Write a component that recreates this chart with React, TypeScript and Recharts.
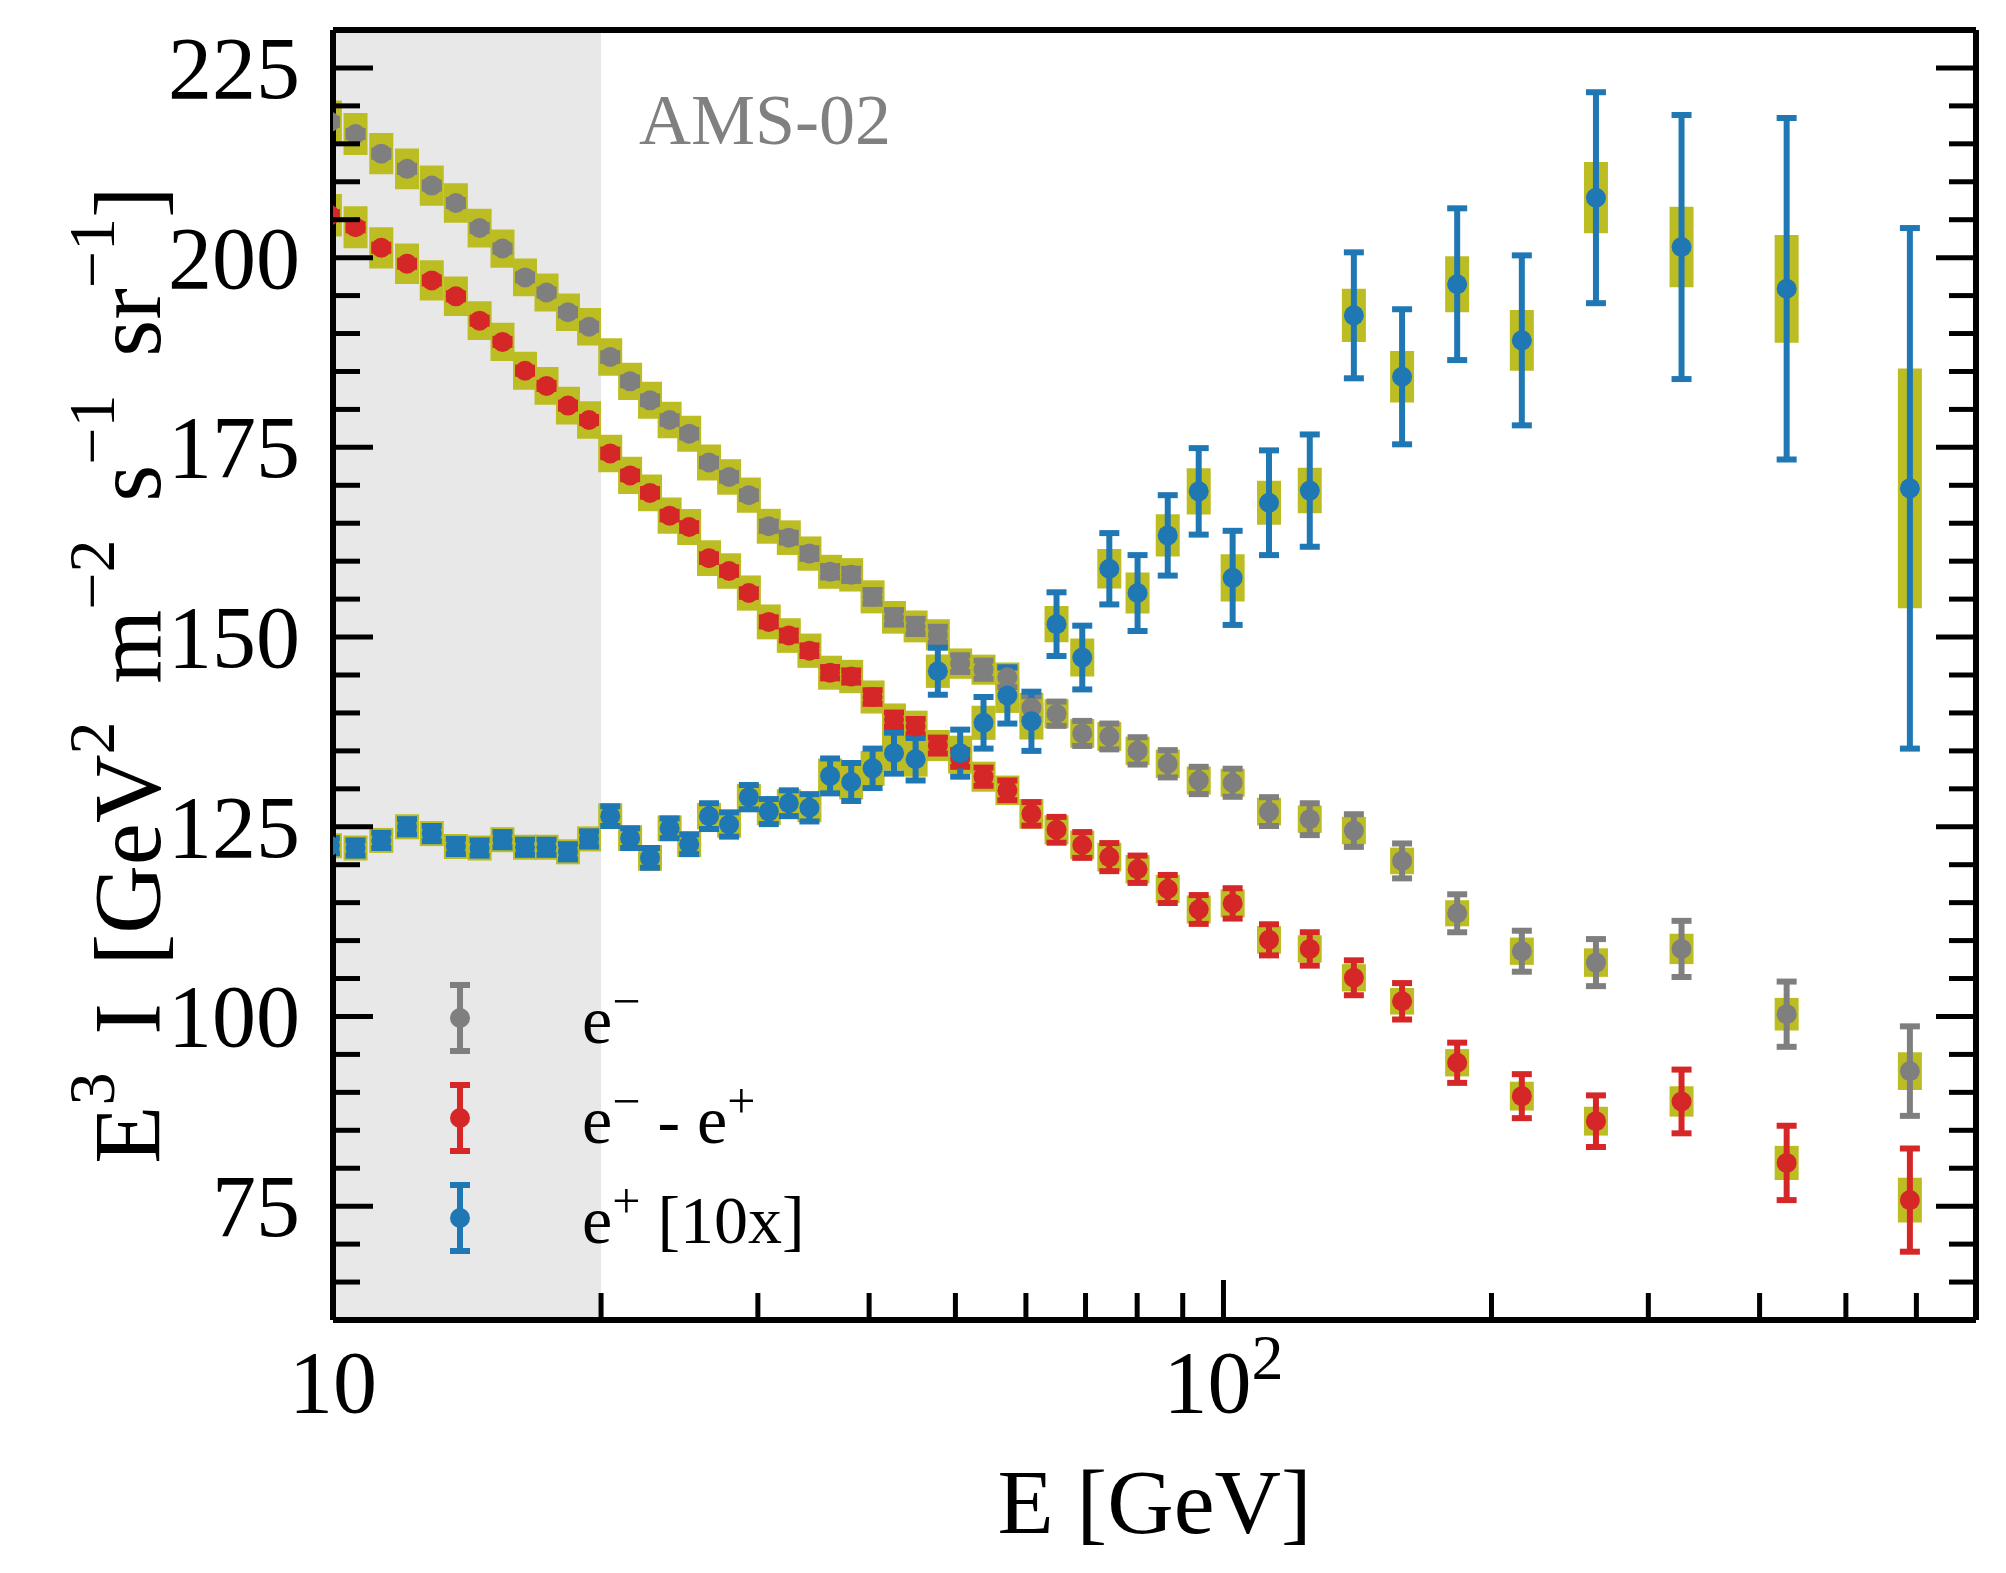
import React from 'react';
import {
  ComposedChart,
  Scatter,
  XAxis,
  YAxis,
  ErrorBar,
  ReferenceArea,
  ReferenceDot,
  Legend,
} from 'recharts';

const FONT = '"Liberation Serif", "Times New Roman", serif';
const OLIVE = '#bcbd22';
const GRAY = '#7f7f7f';
const RED = '#d62728';
const BLUE = '#1f77b4';

// Energy of each bin [GeV]
const energy = [
  9.92, 10.6, 11.33, 12.11, 12.91, 13.74, 14.61, 15.5, 16.43, 17.37,
  18.36, 19.39, 20.48, 21.56, 22.7, 23.88, 25.12, 26.44, 27.85, 29.31,
  30.86, 32.5, 34.28, 36.16, 38.19, 40.36, 42.66, 45.11, 47.78, 50.62,
  53.77, 57.19, 60.86, 64.94, 69.41, 74.44, 80.08, 86.58, 93.8, 102.4,
  112.5, 125.0, 140.1, 158.7, 183.0, 216.3, 262.0, 326.9, 429.0, 590.0,
];

// e-  (E^3 flux)
const eMinus = [
  217.9, 216.3, 213.7, 211.7, 209.5, 207.2, 203.9, 201.2, 197.4, 195.4,
  192.8, 190.9, 186.9, 183.7, 181.2, 178.6, 176.8, 173.0, 171.1, 168.7,
  164.6, 163.1, 161.0, 158.6, 158.2, 155.3, 152.6, 151.4, 150.3, 146.5,
  145.7, 144.7, 140.7, 139.9, 137.3, 136.9, 135.0, 133.3, 131.1, 130.8,
  127.0, 126.0, 124.5, 120.5, 113.6, 108.6, 107.1, 108.9, 100.3, 92.8,
];
const eMinusStat = [
  0.4, 0.4, 0.4, 0.4, 0.4, 0.4, 0.4, 0.4, 0.4, 0.4,
  0.4, 0.4, 0.5, 0.5, 0.5, 0.5, 0.5, 0.5, 0.5, 0.5,
  0.6, 0.65, 0.7, 0.75, 0.8, 0.9, 0.95, 1.0, 1.05, 1.1,
  1.2, 1.3, 1.5, 1.6, 1.65, 1.7, 1.8, 1.8, 1.8, 1.85,
  1.9, 2.1, 2.15, 2.3, 2.5, 2.7, 3.1, 3.7, 4.3, 5.9,
];
const eMinusSys = [
  2.8, 2.77, 2.72, 2.68, 2.65, 2.6, 2.55, 2.52, 2.5, 2.5,
  2.48, 2.47, 2.47, 2.45, 2.43, 2.4, 2.38, 2.36, 2.34, 2.32,
  2.3, 2.28, 2.26, 2.24, 2.2, 2.18, 2.15, 2.1, 2.05, 2.0,
  1.98, 1.95, 1.95, 1.92, 1.9, 1.9, 1.88, 1.87, 1.85, 1.85,
  1.82, 1.8, 1.8, 1.75, 1.72, 1.8, 1.88, 2.0, 2.15, 2.5,
];

// e- minus e+
const eDiff = [
  205.6, 204.0, 201.3, 199.2, 197.0, 194.9, 191.7, 188.9, 185.1, 183.1,
  180.5, 178.6, 174.2, 171.3, 169.0, 166.0, 164.5, 160.4, 158.7, 155.8,
  152.0, 150.2, 148.2, 145.3, 144.8, 142.1, 139.1, 138.2, 135.7, 134.0,
  131.6, 129.8, 126.7, 124.6, 122.6, 121.0, 119.4, 116.8, 114.1, 114.9,
  110.1, 108.9, 105.1, 102.0, 93.9, 89.5, 86.2, 88.8, 80.7, 75.8,
];
const eDiffStat = [
  0.4, 0.4, 0.4, 0.4, 0.4, 0.4, 0.4, 0.4, 0.4, 0.4,
  0.4, 0.4, 0.5, 0.5, 0.5, 0.5, 0.5, 0.5, 0.5, 0.5,
  0.6, 0.65, 0.7, 0.75, 0.8, 0.9, 0.95, 1.0, 1.05, 1.1,
  1.2, 1.3, 1.55, 1.7, 1.7, 1.85, 1.8, 1.85, 1.9, 2.0,
  2.05, 2.2, 2.3, 2.4, 2.65, 2.9, 3.4, 4.2, 4.9, 6.8,
];
const eDiffSys = [
  2.8, 2.77, 2.72, 2.68, 2.65, 2.6, 2.55, 2.52, 2.5, 2.5,
  2.48, 2.47, 2.47, 2.45, 2.43, 2.4, 2.38, 2.36, 2.34, 2.32,
  2.3, 2.28, 2.26, 2.24, 2.2, 2.18, 2.15, 2.1, 2.05, 2.0,
  1.98, 1.95, 1.95, 1.92, 1.9, 1.9, 1.88, 1.87, 1.85, 1.85,
  1.82, 1.8, 1.8, 1.75, 1.8, 1.9, 1.9, 2.0, 2.25, 2.95,
];

// e+ scaled by 10
const ePlus10 = [
  122.5, 122.2, 123.2, 125.0, 124.1, 122.4, 122.2, 123.3, 122.3, 122.3,
  121.7, 123.4, 126.4, 123.5, 120.9, 124.8, 122.7, 126.4, 125.3, 128.9,
  127.0, 128.1, 127.5, 131.7, 130.9, 132.7, 134.7, 133.9, 145.5, 134.7,
  138.7, 142.3, 138.9, 151.7, 147.3, 159.0, 155.8, 163.4, 169.2, 157.8,
  167.7, 169.3, 192.4, 184.3, 196.5, 189.1, 207.9, 201.4, 195.9, 169.6,
];
const ePlusStat = [
  1.0, 1.0, 1.0, 1.0, 1.0, 1.0, 1.0, 1.0, 1.0, 1.0,
  1.0, 1.0, 1.3, 1.3, 1.3, 1.3, 1.3, 1.7, 1.6, 1.6,
  1.65, 1.7, 1.8, 2.3, 2.5, 2.6, 2.7, 2.8, 3.1, 3.1,
  3.4, 3.7, 3.9, 4.2, 4.2, 4.7, 5.0, 5.3, 5.7, 6.2,
  6.9, 7.4, 8.3, 8.9, 10.0, 11.2, 13.9, 17.4, 22.5, 34.3,
];
const ePlusSys = [
  1.65, 1.65, 1.65, 1.65, 1.65, 1.65, 1.65, 1.65, 1.65, 1.65,
  1.65, 1.65, 1.7, 1.7, 1.7, 1.7, 1.7, 1.75, 1.75, 1.75,
  1.8, 1.85, 1.9, 2.3, 2.3, 2.3, 2.3, 2.3, 2.2, 2.3,
  2.25, 2.3, 2.4, 2.4, 2.5, 2.6, 2.7, 2.8, 3.05, 3.1,
  2.9, 3.0, 3.5, 3.4, 3.7, 4.0, 4.7, 5.3, 7.1, 15.8,
];

// Axis ticks
const xMajorTicks = [10, 100];
const xMajorBase = ['10', '10'];
const xMajorExp = ['', '2'];
const xAllTicks = [10, 20, 30, 40, 50, 60, 70, 80, 90, 100, 200, 300, 400, 500, 600, 700];
const yMajorTicks = [75, 100, 125, 150, 175, 200, 225];
const yAllTicks = [
  60, 65, 70, 75, 80, 85, 90, 95, 100, 105, 110, 115, 120, 125, 130, 135, 140,
  145, 150, 155, 160, 165, 170, 175, 180, 185, 190, 195, 200, 205, 210, 215,
  220, 225, 230,
];
const xDomain = [10, 700];
const yDomain = [60, 230];
const shadedRange = [10, 20];
const annotation = { text: 'AMS-02', E: 22.06, value: 215.0 };

// Layout of the chart (pixels)
const CHART_W = 2006;
const CHART_H = 1573;
const LEFT_AXIS_W = 333;
const RIGHT_AXIS_W = 30;
const TOP_AXIS_H = 30;
const BOTTOM_AXIS_H = 253;
const PLOT = {
  x: LEFT_AXIS_W,
  y: TOP_AXIS_H,
  w: CHART_W - LEFT_AXIS_W - RIGHT_AXIS_W,
  h: CHART_H - TOP_AXIS_H - BOTTOM_AXIS_H,
};

const makeRows = (vals: number[], stat: number[], sys: number[]) =>
  energy.map((E, i) => ({ E, v: vals[i], stat: stat[i], sys: sys[i] }));

const series = [
  { key: 'em', name: 'e−', color: GRAY, rows: makeRows(eMinus, eMinusStat, eMinusSys) },
  { key: 'diff', name: 'e− - e+', color: RED, rows: makeRows(eDiff, eDiffStat, eDiffSys) },
  { key: 'ep', name: 'e+ [10x]', color: BLUE, rows: makeRows(ePlus10, ePlusStat, ePlusSys) },
];

const MAJOR_LEN = 40;
const MINOR_LEN = 27;
const TICK_W = 5;

const XTickBottom = (props: any) => {
  const { x, y, payload } = props;
  const idx = xMajorTicks.indexOf(payload.value);
  const major = idx >= 0;
  return (
    <g>
      <line x1={x} x2={x} y1={y} y2={y - (major ? MAJOR_LEN : MINOR_LEN)} stroke="#000" strokeWidth={TICK_W} />
      {major && (
        <text x={x} y={y + 92} textAnchor="middle" fontFamily={FONT} fontSize={88} fill="#000">
          {xMajorBase[idx]}
          {xMajorExp[idx] ? (
            <tspan dy={-33} fontSize={64}>
              {xMajorExp[idx]}
            </tspan>
          ) : null}
        </text>
      )}
    </g>
  );
};

const XTickTop = (props: any) => {
  const { x, y, payload } = props;
  const major = xMajorTicks.includes(payload.value);
  return <line x1={x} x2={x} y1={y} y2={y + (major ? MAJOR_LEN : MINOR_LEN)} stroke="#000" strokeWidth={TICK_W} />;
};

const YTickLeft = (props: any) => {
  const { x, y, payload } = props;
  const major = yMajorTicks.includes(payload.value);
  return (
    <g>
      <line x1={x} x2={x + (major ? MAJOR_LEN : MINOR_LEN)} y1={y} y2={y} stroke="#000" strokeWidth={TICK_W} />
      {major && (
        <text x={x - 33} y={y} dy="0.34em" textAnchor="end" fontFamily={FONT} fontSize={88} fill="#000">
          {payload.value}
        </text>
      )}
    </g>
  );
};

const YTickRight = (props: any) => {
  const { x, y, payload } = props;
  const major = yMajorTicks.includes(payload.value);
  return <line x1={x} x2={x - (major ? MAJOR_LEN : MINOR_LEN)} y1={y} y2={y} stroke="#000" strokeWidth={TICK_W} />;
};

const SUP = 66;
const SUP_DY = 46;
const YLabel = (props: any) => {
  const vb = props.viewBox || { x: 0, y: PLOT.y, width: LEFT_AXIS_W, height: PLOT.h };
  const cx = vb.x + 160;
  const cy = vb.y + vb.height / 2;
  return (
    <text
      x={cx}
      y={cy}
      transform={`rotate(-90 ${cx} ${cy})`}
      textAnchor="middle"
      fontFamily={FONT}
      fontSize={95}
      fill="#000"
      wordSpacing={14}
    >
      <tspan>E</tspan>
      <tspan dy={-SUP_DY} fontSize={SUP}>3</tspan>
      <tspan dy={SUP_DY}>{' I [GeV'}</tspan>
      <tspan dy={-SUP_DY} fontSize={SUP}>2</tspan>
      <tspan dy={SUP_DY}>{' m'}</tspan>
      <tspan dy={-SUP_DY} fontSize={SUP}>−2</tspan>
      <tspan dy={SUP_DY}>{' s'}</tspan>
      <tspan dy={-SUP_DY} fontSize={SUP}>−1</tspan>
      <tspan dy={SUP_DY}>{' sr'}</tspan>
      <tspan dy={-SUP_DY} fontSize={SUP}>−1</tspan>
      <tspan dy={SUP_DY}>]</tspan>
    </text>
  );
};

const XLabel = (props: any) => {
  const vb = props.viewBox || { x: PLOT.x, y: PLOT.y + PLOT.h, width: PLOT.w, height: BOTTOM_AXIS_H };
  return (
    <text x={vb.x + vb.width / 2} y={vb.y + 213} textAnchor="middle" fontFamily={FONT} fontSize={92} fill="#000">
      E [GeV]
    </text>
  );
};

const AmsLabel = (props: any) => {
  const vb = props.viewBox || { x: 0, y: 0 };
  return (
    <text x={vb.x} y={vb.y} fontFamily={FONT} fontSize={72} fill="#808080">
      {annotation.text}
    </text>
  );
};

const legendTexts: React.ReactNode[] = [
  <>
    e<tspan dy={-25} fontSize={50}>−</tspan>
  </>,
  <>
    e<tspan dy={-25} fontSize={50}>−</tspan>
    <tspan dy={25}>{' - e'}</tspan>
    <tspan dy={-25} fontSize={50}>+</tspan>
  </>,
  <>
    e<tspan dy={-25} fontSize={50}>+</tspan>
    <tspan dy={25}>{' [10x]'}</tspan>
  </>,
];

const LegendContent = () => (
  <svg width={520} height={320} style={{ overflow: 'visible', display: 'block' }}>
    {series.map((s, i) => {
      const cy = 58 + i * 100;
      const mx = 80;
      return (
        <g key={s.key}>
          <line x1={mx} x2={mx} y1={cy - 33} y2={cy + 33} stroke={s.color} strokeWidth={6} />
          <line x1={mx - 10} x2={mx + 10} y1={cy - 33} y2={cy - 33} stroke={s.color} strokeWidth={6} />
          <line x1={mx - 10} x2={mx + 10} y1={cy + 33} y2={cy + 33} stroke={s.color} strokeWidth={6} />
          <circle cx={mx} cy={cy} r={10} fill={s.color} />
          <text x={202} y={cy + 25} fontFamily={FONT} fontSize={68} fill="#000">
            {legendTexts[i]}
          </text>
        </g>
      );
    })}
  </svg>
);

const EmptyShape = () => <g />;

const clipCss = `
.recharts-scatter, .recharts-errorBars, .recharts-errorBar, .recharts-scatter-symbol {
  clip-path: url(#plotAreaClip);
}
`;

export default function App() {
  return (
    <div style={{ position: 'absolute', left: 0, top: 0, width: CHART_W, height: CHART_H, background: '#fff' }}>
      <style>{clipCss}</style>
      <svg width={0} height={0} style={{ position: 'absolute' }}>
        <defs>
          <clipPath id="plotAreaClip" clipPathUnits="userSpaceOnUse">
            <rect x={PLOT.x} y={PLOT.y} width={PLOT.w} height={PLOT.h} />
          </clipPath>
        </defs>
      </svg>
      <ComposedChart width={CHART_W} height={CHART_H} margin={{ top: 0, right: 0, bottom: 0, left: 0 }}>
        <XAxis
          xAxisId={0}
          dataKey="E"
          type="number"
          scale="log"
          domain={xDomain}
          allowDataOverflow
          ticks={xAllTicks}
          interval={0}
          height={BOTTOM_AXIS_H}
          tickSize={0}
          tickMargin={0}
          tickLine={false}
          axisLine={{ stroke: '#000', strokeWidth: 6 }}
          tick={(p: any) => <XTickBottom {...p} />}
          label={{ content: (p: any) => <XLabel {...p} /> }}
        />
        <XAxis
          xAxisId="top"
          orientation="top"
          type="number"
          scale="log"
          domain={xDomain}
          allowDataOverflow
          ticks={xAllTicks}
          interval={0}
          height={TOP_AXIS_H}
          tickSize={0}
          tickMargin={0}
          tickLine={false}
          axisLine={{ stroke: '#000', strokeWidth: 6 }}
          tick={(p: any) => <XTickTop {...p} />}
        />
        <YAxis
          yAxisId={0}
          dataKey="v"
          type="number"
          domain={yDomain}
          allowDataOverflow
          ticks={yAllTicks}
          interval={0}
          width={LEFT_AXIS_W}
          tickSize={0}
          tickMargin={0}
          tickLine={false}
          axisLine={{ stroke: '#000', strokeWidth: 6 }}
          tick={(p: any) => <YTickLeft {...p} />}
          label={{ content: (p: any) => <YLabel {...p} /> }}
        />
        <YAxis
          yAxisId="right"
          orientation="right"
          type="number"
          domain={yDomain}
          allowDataOverflow
          ticks={yAllTicks}
          interval={0}
          width={RIGHT_AXIS_W}
          tickSize={0}
          tickMargin={0}
          tickLine={false}
          axisLine={{ stroke: '#000', strokeWidth: 6 }}
          tick={(p: any) => <YTickRight {...p} />}
        />

        {series.map((s) => (
          <Scatter
            key={`box-${s.key}`}
            data={s.rows}
            dataKey="v"
            fill={OLIVE}
            shape={EmptyShape}
            legendType="none"
            isAnimationActive={false}
          >
            <ErrorBar dataKey="sys" direction="y" width={0} strokeWidth={24} stroke={OLIVE} />
          </Scatter>
        ))}

        <ReferenceArea
          x1={shadedRange[0]}
          x2={shadedRange[1]}
          y1={yDomain[0]}
          y2={yDomain[1]}
          fill="#808080"
          fillOpacity={0.18}
          stroke="none"
        />

        {series.map((s) => (
          <Scatter
            key={`pt-${s.key}`}
            name={s.name}
            data={s.rows}
            dataKey="v"
            fill={s.color}
            shape={(p: any) => <circle cx={p.cx} cy={p.cy} r={10} fill={s.color} />}
            isAnimationActive={false}
          >
            <ErrorBar dataKey="stat" direction="y" width={10} strokeWidth={6} stroke={s.color} />
          </Scatter>
        ))}

        <ReferenceDot
          x={annotation.E}
          y={annotation.value}
          r={0}
          ifOverflow="visible"
          fill="none"
          stroke="none"
          label={{ content: (p: any) => <AmsLabel {...p} /> }}
        />

        <Legend
          layout="horizontal"
          verticalAlign="middle"
          align="center"
          wrapperStyle={{ position: 'absolute', left: 380, top: 960, width: 520, height: 320 }}
          content={() => <LegendContent />}
        />
      </ComposedChart>
    </div>
  );
}
